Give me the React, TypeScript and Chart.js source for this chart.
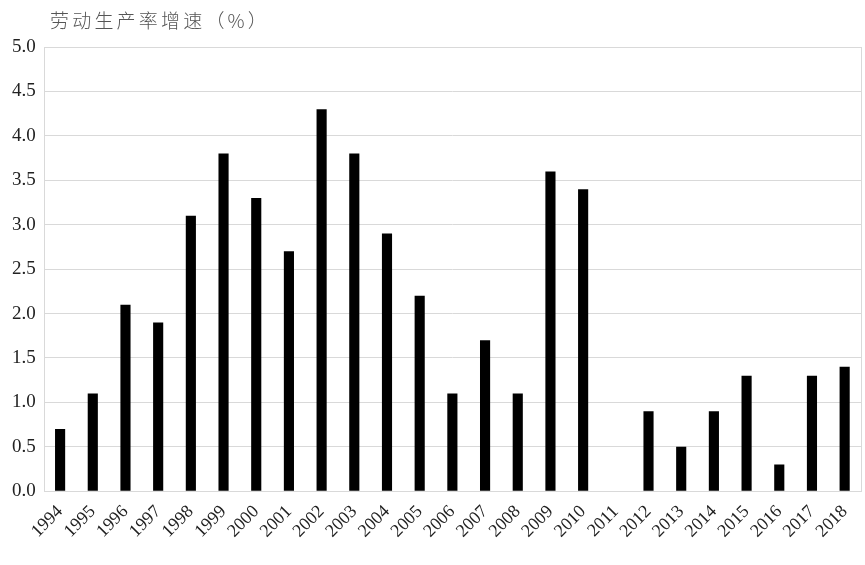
import React, { useEffect, useRef } from "react";
import { Chart, registerables } from "chart.js";

Chart.register(...registerables);

const years = ["1994","1995","1996","1997","1998","1999","2000","2001","2002","2003","2004","2005","2006","2007","2008","2009","2010","2011","2012","2013","2014","2015","2016","2017","2018"];
const growth: (number | null)[] = [0.7,1.1,2.1,1.9,3.1,3.8,3.3,2.7,4.3,3.8,2.9,2.2,1.1,1.7,1.1,3.6,3.4,null,0.9,0.5,0.9,1.3,0.3,1.3,1.4];
const titleText = "劳动生产率增速（%）";

const borderPlugin = {
  id: "areaBorder",
  afterDraw(chart: any) {
    const { ctx, chartArea } = chart;
    ctx.save();
    ctx.strokeStyle = "#d9d9d9";
    ctx.lineWidth = 1;
    ctx.strokeRect(Math.round(chartArea.left) + 0.5, Math.round(chartArea.top) + 0.5, Math.round(chartArea.right - chartArea.left), Math.round(chartArea.bottom - chartArea.top));
    ctx.restore();
  },
};

export default function App() {
  const ref = useRef<HTMLCanvasElement>(null);
  useEffect(() => {
    if (!ref.current) return;
    const chart = new Chart(ref.current, {
      type: "bar",
      data: {
        labels: years,
        datasets: [{ data: growth, backgroundColor: "#000000", barPercentage: 0.31, categoryPercentage: 1 }],
      },
      options: {
        animation: false,
        responsive: false,
        layout: { padding: { top: 47, right: 4, left: 4, bottom: 21 } },
        plugins: { legend: { display: false }, tooltip: { enabled: false } },
        scales: {
          x: {
            grid: { display: false },
            border: { display: false },
            ticks: {
              color: "#222",
              font: { family: "'Liberation Serif', serif", size: 18 },
              maxRotation: 45,
              minRotation: 45,
              autoSkip: false,
              padding: 2,
            },
          },
          y: {
            min: 0,
            max: 5,
            grid: { color: "#d9d9d9", drawTicks: false },
            border: { display: false },
            ticks: {
              stepSize: 0.5,
              color: "#222",
              padding: 8,
              font: { family: "'Liberation Serif', serif", size: 19 },
              callback: (v: any) => Number(v).toFixed(1),
            },
          },
        },
      },
      plugins: [borderPlugin],
    });
    return () => chart.destroy();
  }, []);
  return (
    <div style={{ position: "fixed", left: 0, top: 0, width: 865, height: 565, background: "#fff" }}>
      <div style={{ position: "absolute", left: 50, top: 6, fontFamily: "'Noto Sans CJK SC', sans-serif", fontSize: 19, color: "#555", letterSpacing: 3.2, fontWeight: 300 }}>
        {titleText}
      </div>
      <canvas ref={ref} width={865} height={565} style={{ display: "block" }} />
    </div>
  );
}
